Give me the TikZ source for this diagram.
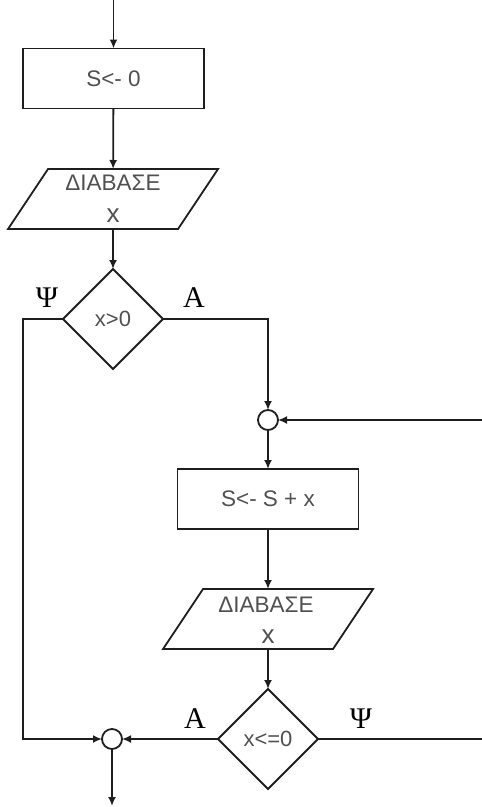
\documentclass[tikz,border=0pt]{standalone}
\usepackage{fontspec}
\setmainfont{Liberation Sans}
\newfontfamily\lblfont{Liberation Serif}
\usetikzlibrary{shapes.geometric,arrows.meta,calc}
\definecolor{txt}{RGB}{80,80,80}
\definecolor{lncol}{RGB}{30,30,30}
\begin{document}
\begin{tikzpicture}[x=1pt,y=-1pt,
  every node/.style={inner sep=0pt,outer sep=0pt},
  procbox/.style={draw=lncol,line width=1.8pt,minimum width=181pt,minimum height=60pt,text=txt,font=\fontsize{22.5}{24}\selectfont},
  decbox/.style={draw=lncol,line width=1.8pt,shape=diamond,aspect=1,minimum width=100pt,minimum height=100pt,text=txt,font=\fontsize{22}{24}\selectfont},
  joinpt/.style={draw=lncol,line width=1.8pt,circle,minimum size=20pt},
  iobox/.style={minimum width=130pt,minimum height=60pt},
  arr/.style={draw=lncol,line width=1.8pt,-{Latex[length=9pt,width=8pt]}},
  plain/.style={draw=lncol,line width=1.8pt},
  gt/.style={text=txt,font=\fontsize{22.5}{24}\selectfont,anchor=base},
  bigx/.style={text=txt,font=\fontsize{26}{30}\selectfont,anchor=base},
  lab/.style={font=\lblfont\fontsize{30}{32}\selectfont,anchor=base}]
\useasboundingbox (0,0) rectangle (482,807);

% nodes
\coordinate (top) at (113.5,0);
\node[procbox] (b1) at (113.5,78.5) {S<- 0};
\node[iobox] (p1) at (113,199) {};
\node[decbox] (d1) at (113,319) {x>0};
\node[joinpt] (c1) at (268,420) {};
\node[procbox] (b2) at (268,499) {S<- S + x};
\node[iobox] (p2) at (268,619) {};
\node[decbox] (d2) at (268,739) {x<=0};
\node[joinpt] (c2) at (112,739) {};
\coordinate (L) at (23,319);
\coordinate (R1) at (482,420);
\coordinate (R2) at (482,739);
\coordinate (bot) at (112,806);

% parallelograms
\draw[plain] ($(p1.north)+(-65,0)$) -- ($(p1.north)+(105,0)$) -- ($(p1.south)+(65,0)$) -- ($(p1.south)+(-105,0)$) -- cycle;
\node[gt] (p1t) at ($(p1.north)+(0,21.5)$) {ΔΙΑΒΑΣΕ};
\node[bigx] (p1x) at ($(p1.north)+(0,53)$) {x};
\draw[plain] ($(p2.north)+(-65,0)$) -- ($(p2.north)+(105,0)$) -- ($(p2.south)+(65,0)$) -- ($(p2.south)+(-105,0)$) -- cycle;
\node[gt] (p2t) at ($(p2.north)+(-2,23)$) {ΔΙΑΒΑΣΕ};
\node[bigx] (p2x) at ($(p2.north)+(0,54)$) {x};

% labels
\node[lab] (psi1) at (47,307) {Ψ};
\node[lab] (a1) at (194,307) {Α};
\node[lab] (a2) at (195,728) {Α};
\node[lab] (psi2) at (361,728) {Ψ};

% connectors
\draw[arr] (top) -- (b1.north);
\draw[arr] (b1) -- (p1);
\draw[arr] (p1) -- (d1);
\draw[arr] (d1.east) -| (c1.north);
\draw[arr] (d1.west) -- (L) |- (c2.west);
\draw[arr] (R1) -- (c1.east);
\draw[arr] (c1) -- (b2);
\draw[arr] (b2) -- (p2);
\draw[arr] (p2) -- (d2);
\draw[arr] (d2.west) -- (c2.east);
\draw[plain] (d2.east) -- (R2);
\draw[arr] (c2) -- (bot);
\end{tikzpicture}
\end{document}
